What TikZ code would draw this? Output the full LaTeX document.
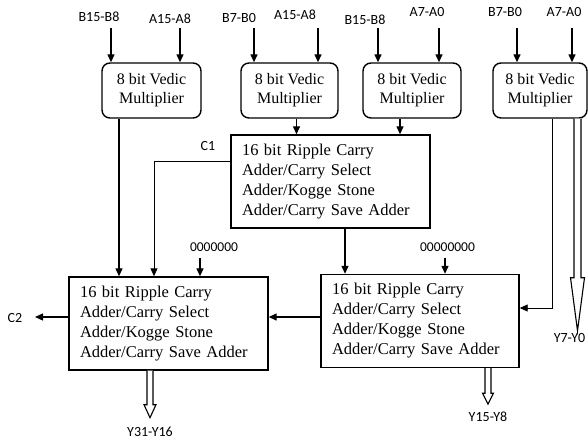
\documentclass[tikz,border=0pt]{standalone}
\usepackage{fontspec}
\setmainfont{Liberation Serif}
\newfontfamily\labfont{Carlito}
\usetikzlibrary{arrows.meta,calc}
\begin{document}
\begin{tikzpicture}[x=1pt,y=-1pt,
  mult/.style={draw,line width=1.4pt,rounded corners=8pt,minimum width=98pt,minimum height=55pt,align=center,font=\fontsize{16}{19}\selectfont,inner sep=0pt},
  adder/.style={draw,line width=1.4pt,minimum width=199pt,minimum height=93pt,text width=177pt,inner xsep=11pt,inner ysep=0pt,align=left,font=\fontsize{16.5}{20}\selectfont},
  lbl/.style={font=\labfont\fontsize{14}{16}\selectfont,inner sep=0pt},
  arr/.style={line width=1.3pt,-{Triangle[length=8pt,width=7pt]}},
  thinarr/.style={line width=0.9pt,-{Triangle[length=8pt,width=7pt]}},
  hollow/.style={draw,line width=1.1pt,fill=white,line join=miter}
]
\useasboundingbox (0,0) rectangle (588,442);

% multipliers
\node[mult,minimum width=99pt] (M1) at (151.5,90.5) {8 bit Vedic\\Multiplier};
\node[mult,minimum width=97pt] (M2) at (289.5,90.5) {8 bit Vedic\\Multiplier};
\node[mult] (M3) at (412,90.5) {8 bit Vedic\\Multiplier};
\node[mult,minimum width=94pt] (M4) at (540,90.5) {8 bit Vedic\\Multiplier};

% adders
\node[adder] (A1) at (330.5,181.5) {16 bit Ripple Carry\\Adder/Carry Select\\Adder/Kogge Stone\\Adder/Carry Save Adder};
\node[adder] (L) at (168.5,323.5) {16 bit Ripple Carry\\Adder/Carry Select\\Adder/Kogge Stone\\Adder/Carry Save Adder};
\node[adder,minimum width=198pt,text width=176pt] (B2) at (420,321) {16 bit Ripple Carry\\Adder/Carry Select\\Adder/Kogge Stone\\Adder/Carry Save Adder};

% input labels
\node[lbl] (b1) at (99,16.5) {B15-B8};
\node[lbl] (a1) at (170,18.5) {A15-A8};
\node[lbl] (b2) at (239,18.5) {B7-B0};
\node[lbl] (a2) at (295,15) {A15-A8};
\node[lbl] (b3) at (365,19.5) {B15-B8};
\node[lbl] (a3) at (427,12.5) {A7-A0};
\node[lbl] (b4) at (505,12.5) {B7-B0};
\node[lbl] (a4) at (564,12.5) {A7-A0};

\coordinate (t1) at (111,28);
\coordinate (t2) at (180,28);
\coordinate (t3) at (254,28);
\coordinate (t4) at (318,28);
\coordinate (t5) at (378,28);
\coordinate (t6) at (439,28);
\coordinate (t7) at (517,28);
\coordinate (t8) at (572,28);
\draw[arr] (t1) -- (t1 |- M1.north);
\draw[arr] (t2) -- (t2 |- M1.north);
\draw[arr] (t3) -- (t3 |- M2.north);
\draw[arr] (t4) -- (t4 |- M2.north);
\draw[arr] (t5) -- (t5 |- M3.north);
\draw[arr] (t6) -- (t6 |- M3.north);
\draw[arr] (t7) -- (t7 |- M4.north);
\draw[arr] (t8) -- (t8 |- M4.north);

% multipliers to adders
\draw[arr] ([xshift=7pt]M2.south) -- ([xshift=7pt]M2.south |- A1.north);
\draw[arr] ([xshift=-12pt]M3.south) -- ([xshift=-12pt]M3.south |- A1.north);
\draw[arr] ([xshift=-32.5pt]M1.south) -- ([xshift=-32.5pt]M1.south |- L.north);

% C1
\node[lbl] (c1) at (208,146) {C1};
\draw[thinarr] ([yshift=-27pt]A1.north west) -| ([xshift=-14.5pt]L.north);

% zeros
\node[lbl,font=\labfont\fontsize{13.5}{16}\selectfont] (z1) at (214,247) {0000000};
\node[lbl,font=\labfont\fontsize{13.5}{16}\selectfont] (z2) at (447.5,247) {00000000};
\coordinate (z1s) at (200,258);
\coordinate (z2s) at (445,258);
\draw[arr] (z1s) -- (z1s |- L.north);
\draw[arr] (z2s) -- (z2s |- B2.north);

% A1 to B2
\draw[arr] ([xshift=14.5pt]A1.south) -- ([xshift=14.5pt]A1.south |- B2.north);

% M4 to B2
\draw[thinarr] ([xshift=12pt]M4.south) |- ([yshift=13pt]B2.east);

% B2 to L
\draw[arr] ([yshift=4pt]B2.west) -- ([yshift=4pt]B2.west -| L.east);

% C2
\node[lbl] (c2) at (15,318) {C2};
\coordinate (c2e) at (35,317);
\draw[arr] (L.west |- c2e) -- (c2e);

% outputs
\node[lbl] (y1) at (150,432) {Y31-Y16};
\node[lbl] (y2) at (488,417) {Y15-Y8};
\node[lbl] (y3) at (569.5,338) {Y7-Y0};

\draw[hollow] ($(L.south -| y1)+(-3,0)$) -- ++(0,34) -- ++(-3,0) -- ++(6,13) -- ++(6,-13) -- ++(-3,0) -- ++(0,-34);
\draw[hollow] ($(B2.south -| y2)+(-3,0)$) -- ++(0,25) -- ++(-2.5,0) -- ++(5.5,11) -- ++(5.5,-11) -- ++(-2.5,0) -- ++(0,-25);
\draw[hollow] ($(M4.south)+(34,0)$) -- ++(0,159) -- ++(-3.5,0) -- ++(7,53) -- ++(7,-53) -- ++(-3.5,0) -- ++(0,-159);
\end{tikzpicture}
\end{document}
